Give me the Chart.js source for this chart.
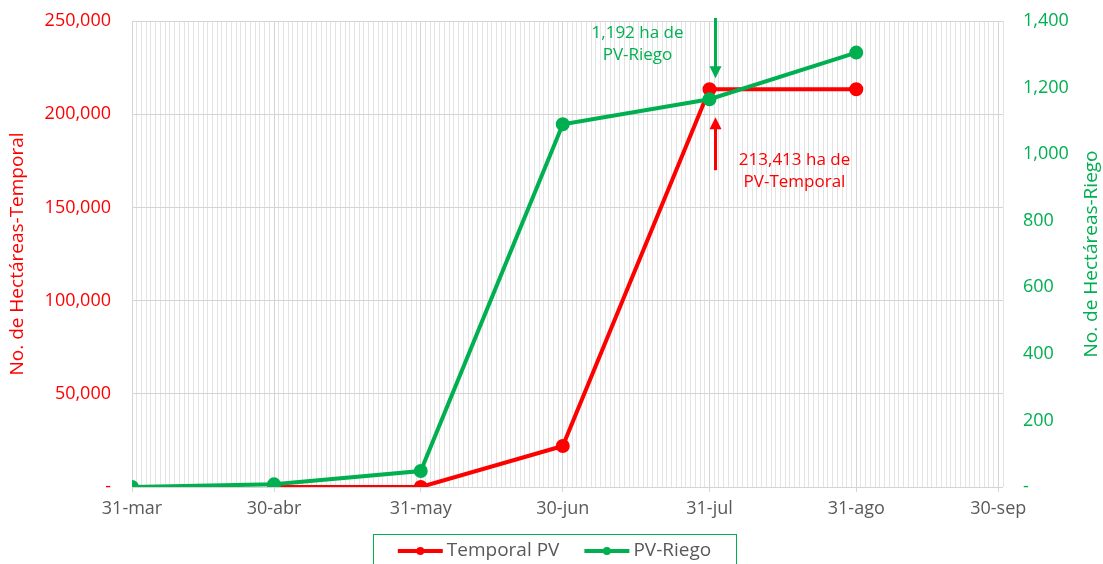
<!DOCTYPE html>
<html><head><meta charset="utf-8">
<script src="https://cdn.jsdelivr.net/npm/chart.js@4/dist/chart.umd.min.js"></script>
<style>html,body{margin:0;padding:0;background:#fff;}#wrap{width:1103px;height:564px;overflow:hidden;}</style>
</head><body><div id="wrap"><canvas id="c" width="1103" height="564"></canvas></div>
<script>
// ---- data ----
const startDate = '2020-03-31';
const endDay = 184;
const temporalDates = ['2020-04-30','2020-05-31','2020-06-30','2020-07-31','2020-08-31'];
const temporalPV = [0, 0, 22000, 213413, 213413];
const riegoDates = ['2020-03-31','2020-04-30','2020-05-31','2020-06-30','2020-07-31','2020-08-31'];
const pvRiego = [0, 8, 48, 1090, 1165, 1305];
const monthEndDates = ['2020-03-31','2020-04-30','2020-05-31','2020-06-30','2020-07-31','2020-08-31','2020-09-30'];
const monthEndLabels = ['31-mar','30-abr','31-may','30-jun','31-jul','31-ago','30-sep'];
const leftTicks = [0, 50000, 100000, 150000, 200000, 250000];
const rightTicks = [0, 200, 400, 600, 800, 1000, 1200, 1400];
const seriesNames = ['Temporal PV', 'PV-Riego'];
const riegoNote = ['1,192 ha de', 'PV-Riego'];
const temporalNote = ['213,413 ha de', 'PV-Temporal'];
const annotDate = '2020-07-31';

// ---- helpers ----
const RED = '#FF0000', GREEN = '#00B050', GRAY = '#595959';
const FONT = '"Open Sans", sans-serif';
function dayOf(s){ return Math.round((Date.parse(s) - Date.parse(startDate)) / 86400000); }
const labelByDay = {};
monthEndDates.forEach((d,i)=>{ labelByDay[dayOf(d)] = monthEndLabels[i]; });
const fmt = v => v === 0 ? '-' : v.toLocaleString('en-US');

const overlay = {
  id: 'overlay',
  afterDatasetsDraw(chart){
    const ctx = chart.ctx, xs = chart.scales.x, yl = chart.scales.y, yr = chart.scales.y1;
    const x31 = xs.getPixelForValue(dayOf(annotDate));
    const ax = x31 + 6;
    const yRed = yl.getPixelForValue(temporalPV[3]);
    const yGreen = yr.getPixelForValue(pvRiego[4]);
    ctx.save();
    function arrow(x, y0, y1, color){
      const dir = y1 > y0 ? 1 : -1;
      ctx.strokeStyle = color; ctx.fillStyle = color; ctx.lineWidth = 3;
      ctx.beginPath(); ctx.moveTo(x, y0); ctx.lineTo(x, y1 - dir*10); ctx.stroke();
      ctx.beginPath(); ctx.moveTo(x, y1); ctx.lineTo(x - 6, y1 - dir*12); ctx.lineTo(x + 6, y1 - dir*12); ctx.closePath(); ctx.fill();
    }
    arrow(ax, chart.chartArea.top - 3, yRed - 11, GREEN);
    arrow(ax, yGreen + 71, yGreen + 18, RED);
    ctx.font = '17px ' + FONT; ctx.textAlign = 'center'; ctx.textBaseline = 'middle';
    ctx.fillStyle = GREEN;
    ctx.fillText(riegoNote[0], ax - 78, yRed - 56);
    ctx.fillText(riegoNote[1], ax - 78, yRed - 34);
    ctx.fillStyle = RED;
    ctx.fillText(temporalNote[0], ax + 79, yGreen + 61);
    ctx.fillText(temporalNote[1], ax + 79, yGreen + 83);
    ctx.restore();
  },
  afterDraw(chart){
    const ctx = chart.ctx, ca = chart.chartArea;
    const cy = (ca.top + ca.bottom) / 2;
    ctx.save();
    ctx.font = '19px ' + FONT; ctx.textAlign = 'center'; ctx.textBaseline = 'middle';
    ctx.fillStyle = RED;
    ctx.translate(18, cy); ctx.rotate(-Math.PI/2); ctx.fillText('No. de Hectáreas-Temporal', 0, 0);
    ctx.setTransform(1,0,0,1,0,0);
    ctx.fillStyle = GREEN;
    ctx.translate(1092, cy); ctx.rotate(-Math.PI/2); ctx.fillText('No. de Hectáreas-Riego', 0, 0);
    ctx.setTransform(1,0,0,1,0,0);
    // legend
    const colors = [RED, GREEN];
    const sample = 45, gap = 4, itemGap = 25;
    const widths = seriesNames.map(n => ctx.measureText(n).width);
    const total = widths.reduce((a,b)=>a+b,0) + seriesNames.length*(sample+gap) + itemGap;
    const boxW = 363;
    const boxL = 373;
    ctx.strokeStyle = GREEN; ctx.lineWidth = 1;
    ctx.strokeRect(boxL + 0.5, 534.5, boxW, 60);
    let x = boxL + (boxW - total)/2;
    const ly = 551;
    seriesNames.forEach((n,i)=>{
      ctx.strokeStyle = colors[i]; ctx.fillStyle = colors[i]; ctx.lineWidth = 4;
      ctx.beginPath(); ctx.moveTo(x, ly); ctx.lineTo(x + sample, ly); ctx.stroke();
      ctx.beginPath(); ctx.arc(x + sample/2, ly, 4, 0, Math.PI*2); ctx.fill();
      ctx.fillStyle = GRAY; ctx.textAlign = 'left';
      ctx.fillText(n, x + sample + gap, ly);
      x += sample + gap + widths[i] + itemGap;
    });
    ctx.restore();
  }
};

new Chart(document.getElementById('c'), {
  type: 'line',
  data: {
    datasets: [
      { label: seriesNames[0], data: temporalDates.map((d,i)=>({x: dayOf(d), y: temporalPV[i]})),
        yAxisID: 'y', borderColor: RED, backgroundColor: RED, pointBackgroundColor: RED, pointBorderColor: RED,
        borderWidth: 4, pointRadius: 5, tension: 0, order: 1 },
      { label: seriesNames[1], data: riegoDates.map((d,i)=>({x: dayOf(d), y: pvRiego[i]})),
        yAxisID: 'y1', borderColor: GREEN, backgroundColor: GREEN, pointBackgroundColor: GREEN, pointBorderColor: GREEN,
        borderWidth: 4, pointRadius: 5, tension: 0, order: 0 }
    ]
  },
  options: {
    responsive: false, animation: false, events: [],
    layout: { padding: { top: 21, left: 0, right: 0, bottom: 0 } },
    plugins: { legend: { display: false }, tooltip: { enabled: false } },
    scales: {
      x: {
        type: 'linear', min: 0, max: endDay,
        afterBuildTicks(s){ const t=[]; for(let i=0;i<=endDay;i++) t.push({value:i}); s.ticks = t; },
        afterFit(s){ s.height = 77; s.paddingLeft = 0; s.paddingRight = 0; },
        grid: {
          color: c => (c.tick && labelByDay[c.tick.value] !== undefined) ? '#d4d4d4' : '#e4e4e4',
          tickColor: c => (c.tick && labelByDay[c.tick.value] !== undefined) ? '#d4d4d4' : 'rgba(0,0,0,0)',
          tickLength: 5, lineWidth: 1
        },
        border: { display: false },
        ticks: { autoSkip: false, maxRotation: 0, minRotation: 0, padding: 6, color: GRAY,
          font: { family: FONT, size: 18 },
          callback: v => labelByDay[v] !== undefined ? labelByDay[v] : '' }
      },
      y: {
        position: 'left', min: 0, max: 250000,
        afterBuildTicks(s){ s.ticks = leftTicks.map(v=>({value:v})); },
        afterFit(s){ s.width = 132; s.paddingTop = 0; s.paddingBottom = 0; },
        grid: { color: '#d4d4d4', drawTicks: false },
        border: { display: false },
        ticks: { padding: 21, color: RED, font: { family: FONT, size: 18 }, callback: v => fmt(v) }
      },
      y1: {
        position: 'right', min: 0, max: 1400,
        afterBuildTicks(s){ s.ticks = rightTicks.map(v=>({value:v})); },
        afterFit(s){ s.width = 100; s.paddingTop = 0; s.paddingBottom = 0; },
        grid: { drawOnChartArea: false, drawTicks: false },
        border: { display: false },
        ticks: { padding: 20, color: GREEN, font: { family: FONT, size: 18 }, callback: v => fmt(v) }
      }
    }
  },
  plugins: [overlay]
});
</script></body></html>
